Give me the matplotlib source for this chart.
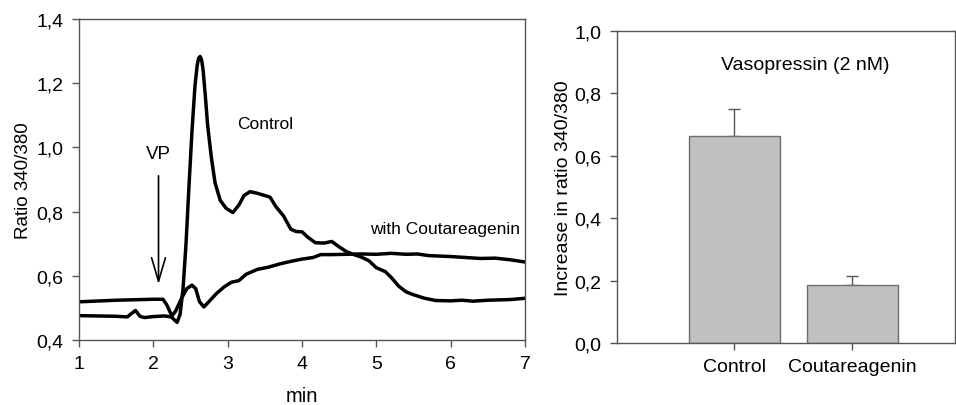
import numpy as np
import matplotlib
matplotlib.use("Agg")
import matplotlib.pyplot as plt
from matplotlib.ticker import FuncFormatter

plt.rcParams['font.family'] = ['Liberation Sans', 'DejaVu Sans']

# Left panel: fura-2 ratio traces
control_t = [1.0, 1.5, 1.65, 1.72, 1.76, 1.82, 1.88, 2.0, 2.15, 2.24, 2.32, 2.36, 2.40, 2.44,
             2.48, 2.52, 2.56, 2.59, 2.61, 2.63, 2.65, 2.67, 2.70, 2.73, 2.78, 2.83, 2.90,
             2.98, 3.07, 3.15, 3.22, 3.30, 3.40, 3.50, 3.57, 3.65, 3.75, 3.85, 3.92, 4.00,
             4.08, 4.18, 4.30, 4.40, 4.50, 4.60, 4.70, 4.80, 4.90, 5.00, 5.12, 5.20, 5.30,
             5.40, 5.50, 5.65, 5.80, 6.00, 6.15, 6.30, 6.50, 6.80, 7.00]
control_v = [0.476, 0.474, 0.472, 0.485, 0.492, 0.474, 0.470, 0.473, 0.475, 0.472, 0.455,
             0.480, 0.560, 0.700, 0.880, 1.050, 1.190, 1.255, 1.278, 1.283, 1.272, 1.240,
             1.160, 1.070, 0.970, 0.890, 0.835, 0.810, 0.797, 0.820, 0.850, 0.862, 0.857,
             0.850, 0.845, 0.815, 0.787, 0.745, 0.738, 0.737, 0.720, 0.703, 0.702, 0.707,
             0.690, 0.675, 0.666, 0.658, 0.647, 0.625, 0.613, 0.595, 0.568, 0.550, 0.541,
             0.530, 0.523, 0.522, 0.524, 0.521, 0.524, 0.526, 0.530]

coutar_t = [1.0, 1.5, 2.0, 2.13, 2.18, 2.25, 2.30, 2.38, 2.45, 2.52, 2.57, 2.62, 2.68, 2.75,
            2.85, 2.95, 3.05, 3.15, 3.25, 3.40, 3.55, 3.70, 3.85, 4.00, 4.15, 4.25, 4.40,
            4.60, 4.80, 5.00, 5.20, 5.40, 5.55, 5.70, 6.00, 6.20, 6.40, 6.60, 6.80, 7.00]
coutar_v = [0.519, 0.524, 0.527, 0.527, 0.510, 0.475, 0.490, 0.530, 0.560, 0.571, 0.560,
            0.520, 0.503, 0.520, 0.545, 0.565, 0.580, 0.585, 0.605, 0.620, 0.627, 0.637,
            0.645, 0.652, 0.657, 0.666, 0.666, 0.667, 0.668, 0.667, 0.670, 0.667, 0.668,
            0.663, 0.660, 0.657, 0.654, 0.655, 0.650, 0.643]

# Right panel: bar summary
groups = ['Control', 'Coutareagenin']
increase = [0.665, 0.185]
increase_err = [0.085, 0.03]

comma = FuncFormatter(lambda v, p: f'{v:.1f}'.replace('.', ','))
spine_col = '#555555'

fig = plt.figure(figsize=(9.56, 4.06), dpi=100)

# ---- left: traces ----
ax1 = fig.add_axes([0.0826, 0.160, 0.4666, 0.791])
ax1.plot(control_t, control_v, color='black', lw=2.5, solid_joinstyle='round')
ax1.plot(coutar_t, coutar_v, color='black', lw=2.5, solid_joinstyle='round')
ax1.set_xlim(1, 7)
ax1.set_ylim(0.4, 1.4)
ax1.set_xticks(range(1, 8))
ax1.set_yticks(np.arange(0.4, 1.41, 0.2))
ax1.yaxis.set_major_formatter(comma)
ax1.set_xlabel('min', fontsize=14.5, labelpad=10)
ax1.set_ylabel('Ratio 340/380', fontsize=13.5, labelpad=3)

ax1.annotate('', xy=(2.07, 0.565), xytext=(2.07, 0.92),
             arrowprops=dict(arrowstyle='->,head_length=0.85,head_width=0.25',
                             mutation_scale=20, color='black', lw=1.2))
ax1.text(2.07, 0.955, 'VP', ha='center', va='bottom', fontsize=13.5)
ax1.text(3.5, 1.075, 'Control', ha='center', va='center', fontsize=12.5)
ax1.text(5.92, 0.746, 'with Coutareagenin', ha='center', va='center', fontsize=12.5)

# ---- right: bars ----
ax2 = fig.add_axes([0.6454, 0.153, 0.3536, 0.768])
x = np.arange(len(groups))
ax2.bar(x, increase, width=0.77, color='#c0c0c0', edgecolor='#6e6e6e', lw=1.0, zorder=2)
ax2.errorbar(x, increase, yerr=[np.zeros(len(x)), increase_err], fmt='none',
             ecolor='#555555', elinewidth=1.0, capsize=4, capthick=1.0, zorder=1)
ax2.set_xlim(-0.99, 1.87)
ax2.set_ylim(0, 1.0)
ax2.set_xticks(x)
ax2.set_xticklabels(groups)
ax2.set_yticks(np.arange(0, 1.01, 0.2))
ax2.yaxis.set_major_formatter(comma)
ax2.set_ylabel('Increase in ratio 340/380', fontsize=14, labelpad=2)
ax2.text(0.6, 0.894, 'Vasopressin (2 nM)', ha='center', va='center', fontsize=14)

for ax in (ax1, ax2):
    for s in ax.spines.values():
        s.set_color(spine_col)
        s.set_linewidth(1.0)
    ax.tick_params(direction='out', length=5, width=1.0, color=spine_col,
                   labelsize=14, pad=6)

fig.savefig('out.png', dpi=100)
